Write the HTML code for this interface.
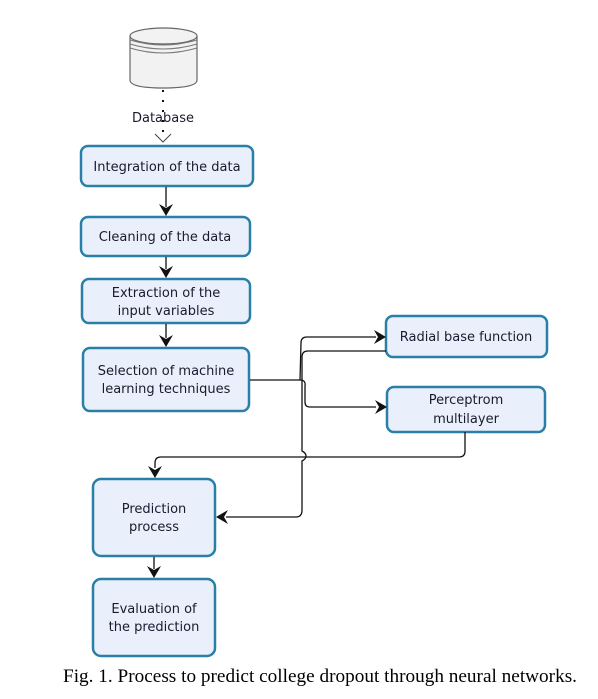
<!DOCTYPE html>
<html><head><style>
html,body{margin:0;padding:0;background:#fff;}
svg{display:block;}
text{font-family:"DejaVu Sans","Liberation Sans",sans-serif;font-size:13px;fill:#1a1a2e;}
.b{fill:#eaf0fb;stroke:#2a7fa8;stroke-width:2.5;}
.l{fill:none;stroke:#111;stroke-width:1.3;}
.a{fill:#111;}
</style></head><body>
<svg width="598" height="699" viewBox="0 0 598 699">
<path d="M130 36 L130 80 Q130 88 163 88 Q197 88 197 80 L197 36" fill="#f2f2f2" stroke="#666" stroke-width="1.2"/>
<ellipse cx="163.5" cy="36" rx="33.5" ry="8" fill="#f2f2f2" stroke="#666" stroke-width="1.2"/>
<path d="M130 40 Q163 50 197 40 M130 44 Q163 54 197 44 M130 48 Q163 58 197 48" fill="none" stroke="#777" stroke-width="1"/>
<path d="M163 90 L163 138" stroke="#111" stroke-width="2" stroke-dasharray="2,8"/>
<text x="163" y="122" text-anchor="middle">Database</text>
<path d="M155 134 L163 142 L171 134" fill="none" stroke="#444" stroke-width="1"/>
<rect class="b" x="81" y="146" width="172" height="40" rx="7"/>
<text x="167" y="171" text-anchor="middle">Integration of the data</text>
<rect class="b" x="81" y="217" width="169" height="39" rx="7"/>
<text x="165" y="241" text-anchor="middle">Cleaning of the data</text>
<rect class="b" x="82" y="279" width="168" height="44" rx="7"/>
<text x="166" y="297" text-anchor="middle">Extraction of the</text>
<text x="166" y="315" text-anchor="middle">input variables</text>
<rect class="b" x="83" y="348" width="166" height="63" rx="7"/>
<text x="166" y="375" text-anchor="middle">Selection of machine</text>
<text x="166" y="393" text-anchor="middle">learning techniques</text>
<rect class="b" x="386" y="316" width="161" height="41" rx="7"/>
<text x="466" y="341" text-anchor="middle">Radial base function</text>
<rect class="b" x="387" y="387" width="158" height="45" rx="7"/>
<text x="466" y="404" text-anchor="middle">Perceptrom</text>
<text x="466" y="423" text-anchor="middle">multilayer</text>
<rect class="b" x="93" y="479" width="122" height="77" rx="8"/>
<text x="154" y="513" text-anchor="middle">Prediction</text>
<text x="154" y="531" text-anchor="middle">process</text>
<rect class="b" x="93" y="579" width="122" height="77" rx="8"/>
<text x="154" y="613" text-anchor="middle">Evaluation  of</text>
<text x="154" y="631" text-anchor="middle">the prediction</text>
<path class="l" d="M166 187 L166 207 M166 257 L166 269 M166 324 L166 338 M154 557 L154 569"/>
<path class="a" d="M159 204 L166 216 L173 204 L166 208Z M159 266 L166 278 L173 266 L166 270Z M159 335 L166 347 L173 335 L166 339Z M147 566 L154 578 L161 566 L154 570Z"/>
<path class="l" d="M250 380 L300 380 Q306 380 305 386 L305 402 Q305 407 310 407 L376 407"/>
<path class="l" d="M300 380 L301 343 Q301 337 307 337 L376 337"/>
<path class="a" d="M374 330 L386 337 L374 344 L378 337Z M375 400 L387 407 L375 414 L379 407Z"/>
<path class="l" d="M386 351 L308 351 Q302 351 302 357 L302 451 Q306 453 306 456 Q306 459 302 461 L302 510 Q302 517 296 517 L226 517"/>
<path class="a" d="M228 510 L216 517 L228 524 L224 517Z"/>
<path class="l" d="M465 432 L465 451 Q465 457 459 457 L161 457 Q155 457 155 463 L155 468"/>
<path class="a" d="M148 466 L155 478 L162 466 L155 470Z"/>
<text x="320" y="682" text-anchor="middle" textLength="514" lengthAdjust="spacingAndGlyphs" style="font-family:'Liberation Serif',serif;font-size:19px;fill:#000;">Fig. 1. Process to predict college dropout through neural networks.</text>
</svg>
</body></html>
